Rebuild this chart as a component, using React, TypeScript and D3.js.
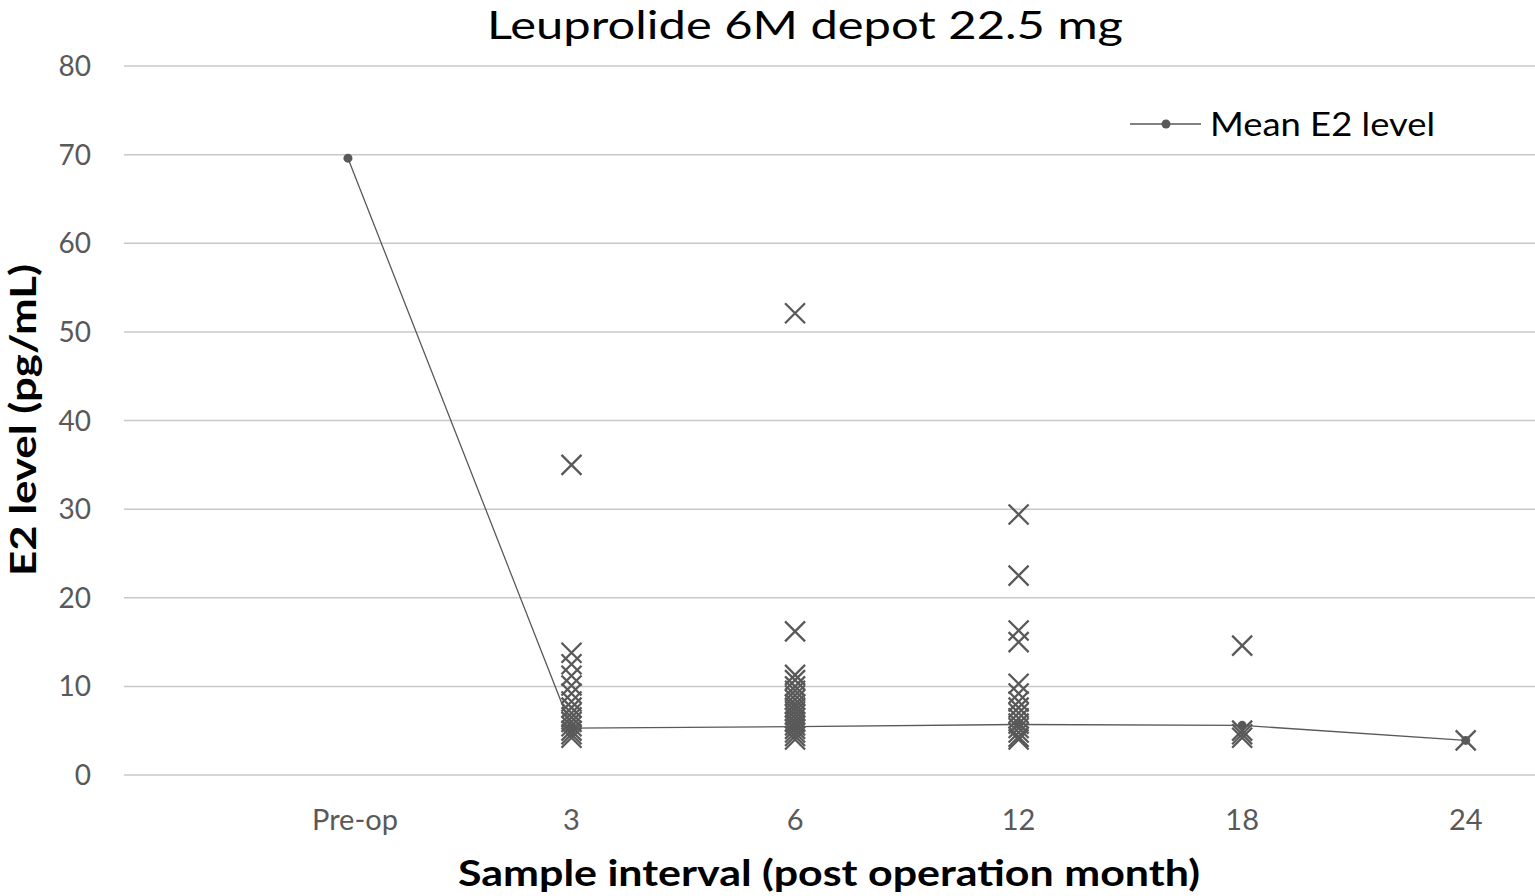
import { useEffect } from 'react';
import * as d3 from 'd3';

// Categories on the x axis (plotted at positions 1..6)
const intervals = ['Pre-op', '3', '6', '12', '18', '24'];

// Mean E2 level per interval (pg/mL)
const meanE2 = [69.6, 5.3, 5.45, 5.7, 5.6, 3.9];

// Individual patient E2 levels per interval (pg/mL)
const e2Month3 = [35.0, 13.8, 12.5, 11.2, 10.1, 9.2, 8.3, 7.6, 7.0, 6.5, 6.0, 5.5, 5.0, 4.6, 4.2];
const e2Month6 = [52.1, 16.2, 11.3, 10.7, 10.0, 9.5, 9.0, 8.5, 8.0, 7.6, 7.2, 6.8, 6.4, 6.0, 5.6, 5.2, 4.8, 4.4, 4.0];
const e2Month12 = [29.4, 22.5, 16.3, 15.0, 10.3, 9.2, 8.3, 7.6, 7.0, 6.4, 5.8, 5.3, 4.8, 4.3, 4.0];
const e2Month18 = [14.6, 5.0, 4.6, 4.2];
const e2Month24 = [3.9];

const individual: { pos: number; values: number[] }[] = [
  { pos: 2, values: e2Month3 },
  { pos: 3, values: e2Month6 },
  { pos: 4, values: e2Month12 },
  { pos: 5, values: e2Month18 },
  { pos: 6, values: e2Month24 },
];

const yTicks = [0, 10, 20, 30, 40, 50, 60, 70, 80];

const WIDTH = 1535;
const HEIGHT = 896;
const FONT = 'Lato, "Open Sans", sans-serif';
const GREY = '#595959';

export default function App() {
  useEffect(() => {
    document.body.style.margin = '0';
  }, []);

  const x = d3.scaleLinear().domain([0, 6.31]).range([124.4, 1535]);
  const y = d3.scaleLinear().domain([0, 80]).range([775, 66]);

  const line = d3
    .line<number>()
    .x((_, i) => x(i + 1))
    .y(d => y(d));

  const xMark = (cx: number, cy: number, key: string) => {
    const h = 10;
    return (
      <path
        key={key}
        d={`M${cx - h},${cy - h}L${cx + h},${cy + h}M${cx - h},${cy + h}L${cx + h},${cy - h}`}
        stroke={GREY}
        strokeWidth={2.3}
        fill="none"
      />
    );
  };

  return (
    <svg width={WIDTH} height={HEIGHT} style={{ display: 'block', background: '#fff' }} fontFamily={FONT}>
      {/* Title */}
      <text x={805} y={39} textAnchor="middle" fontSize={38} fill="#000" textLength={636} lengthAdjust="spacingAndGlyphs">
        Leuprolide 6M depot 22.5 mg
      </text>

      {/* Gridlines and y ticks */}
      {yTicks.map(t => (
        <g key={t}>
          <line x1={124} x2={WIDTH} y1={y(t)} y2={y(t)} stroke="#c8c8c8" strokeWidth={1.5} />
          <text x={91} y={y(t)} dy="0.36em" textAnchor="end" fontSize={28} fill={GREY}>
            {t}
          </text>
        </g>
      ))}

      {/* X tick labels */}
      {intervals.map((c, i) => (
        <text key={c} x={x(i + 1) + (i === 0 ? 7 : 0)} y={820} dy="0.36em" textAnchor="middle" fontSize={29} fill={GREY}>
          {c}
        </text>
      ))}

      {/* Axis titles */}
      <text x={829} y={886} textAnchor="middle" fontSize={37} fontWeight="bold" fill="#000" textLength={742} lengthAdjust="spacingAndGlyphs">
        Sample interval (post operation month)
      </text>
      <text
        transform={`translate(36,420) rotate(-90)`}
        textAnchor="middle"
        fontSize={36}
        fontWeight="bold"
        fill="#000"
        textLength={312}
        lengthAdjust="spacingAndGlyphs"
      >
        E2 level (pg/mL)
      </text>

      {/* Mean line and markers */}
      <path d={line(meanE2) || ''} fill="none" stroke={GREY} strokeWidth={1.3} />
      {meanE2.map((v, i) => (
        <circle key={i} cx={x(i + 1)} cy={y(v)} r={4.5} fill={GREY} />
      ))}

      {/* Individual values */}
      {individual.map(s => s.values.map((v, j) => xMark(x(s.pos), y(v), `${s.pos}-${j}`)))}

      {/* Legend */}
      <line x1={1130} x2={1201} y1={124} y2={124} stroke={GREY} strokeWidth={1.3} />
      <circle cx={1166} cy={124} r={4.5} fill={GREY} />
      <text x={1210} y={124} dy="0.36em" fontSize={33} fill="#000" textLength={225} lengthAdjust="spacingAndGlyphs">
        Mean E2 level
      </text>
    </svg>
  );
}
